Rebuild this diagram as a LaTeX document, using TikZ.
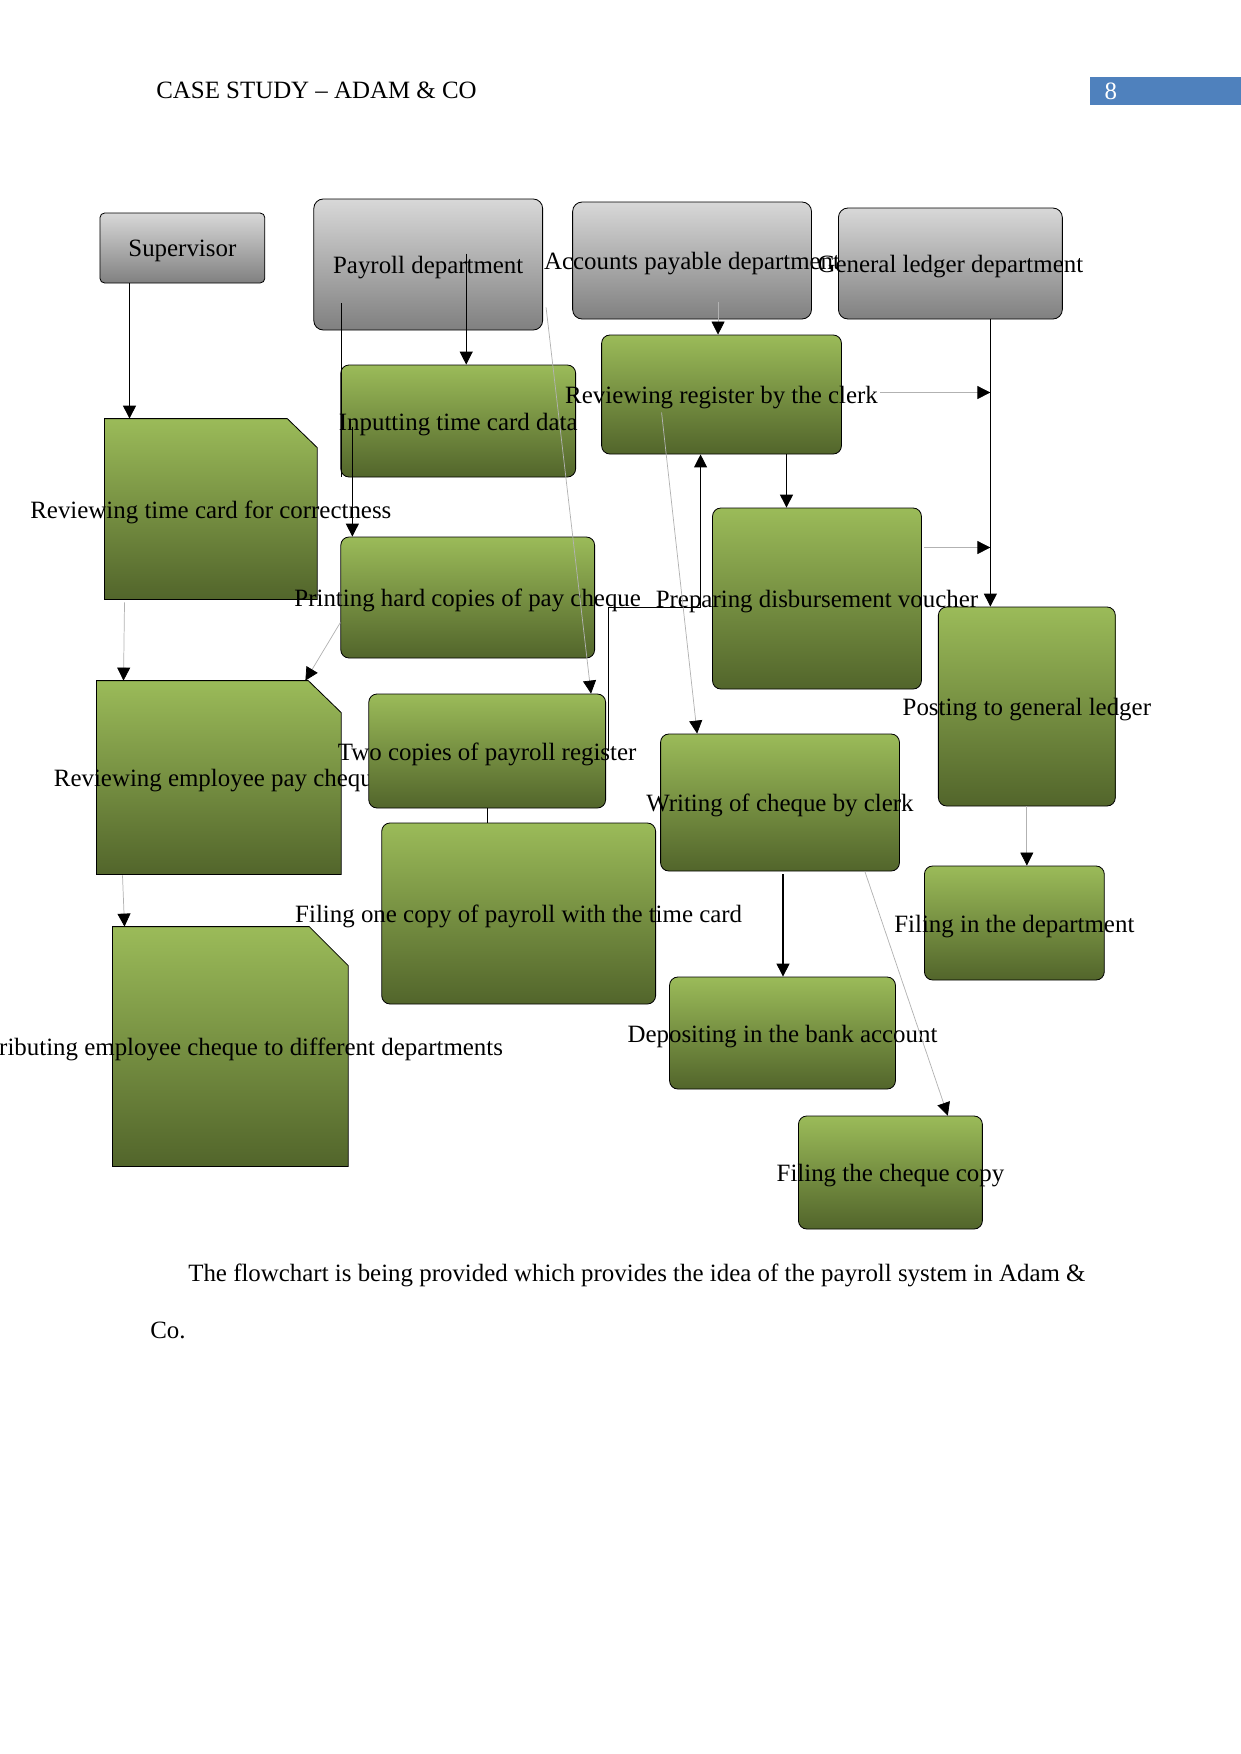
\documentclass[tikz,border=0pt]{standalone}
\usepackage{fontspec}
\setmainfont{Liberation Serif}
\usepackage{xcolor}
\usepackage{tikz}
\usetikzlibrary{arrows.meta,calc}

\definecolor{grtop}{RGB}{155,187,89}
\definecolor{grbot}{RGB}{82,101,43}
\definecolor{gytop}{RGB}{216,216,216}
\definecolor{gybot}{RGB}{128,128,128}
\definecolor{pgblue}{RGB}{79,129,189}

\begin{document}
\begin{tikzpicture}[
  x=0.16922mm, y=-0.16933mm,
  every node/.style={font=\fontsize{12}{14.4}\selectfont},
  every label/.style={yshift=-1.6pt},
  sz/.style 2 args={minimum width=#1*0.16922mm,minimum height=#2*0.16933mm,inner sep=0pt},
  dept/.style={draw=black,line width=0.4pt,rounded corners=1.6mm,
               top color=gytop,bottom color=gybot},
  task/.style={draw=black,line width=0.4pt,rounded corners=1.4mm,
               top color=grtop,bottom color=grbot},
  snip/.style={draw=black,line width=0.4pt,top color=grtop,bottom color=grbot},
  tx/.style={yshift=-1.6pt},
  arr/.style={-{Triangle[length=2.2mm,width=2.2mm]},line width=0.5pt},
  faint/.style={-{Triangle[length=2.2mm,width=2.2mm,color=black]},gray!60,line width=0.35pt}
]
\useasboundingbox (0,0) rectangle (1241,1754);

\node[anchor=west,inner sep=0pt] (head) at (156,90) {CASE STUDY – ADAM \& CO};
\node[fill=pgblue,sz={151}{28},anchor=north west] (pgbox) at (1090,77) {};
\node[text=white,inner sep=0pt,anchor=west] (pgnum) at (1105,91) {8};

\node[dept,sz={165}{70},rounded corners=0.8mm,label={center:Supervisor}] (super) at (182.5,248) {};
\node[dept,sz={229}{131},label={center:Payroll department}] (payroll) at (428.5,264.5) {};
\node[dept,sz={239}{117},label={center:Accounts payable department}] (acpay) at (692.5,260.5) {};
\node[dept,sz={224}{111},label={center:General ledger department}] (genled) at (951,263.5) {};

\node[sz={212}{180}] (revcard) at (211,509) {};
\draw[snip] (revcard.south west) -- (revcard.north west) -- ($(revcard.north east)+(-30,0)$)
  -- ($(revcard.north east)+(0,29)$) -- (revcard.south east) -- cycle;
\node[tx] (revcard-t) at (revcard) {Reviewing time card for correctness};
\node[task,sz={235}{112},label={center:Inputting time card data}] (input) at (458.5,421) {};
\node[task,sz={240}{119},label={center:Reviewing register by the clerk}] (revreg) at (722,394.5) {};
\node[task,sz={254}{121},label={center:Printing hard copies of pay cheque}] (print) at (468,597.5) {};
\node[task,sz={209}{181},label={center:Preparing disbursement voucher}] (prepv) at (817.5,598.5) {};
\node[sz={244}{193}] (revpay) at (219,777.5) {};
\draw[snip] (revpay.south west) -- (revpay.north west) -- ($(revpay.north east)+(-33,0)$)
  -- ($(revpay.north east)+(0,32)$) -- (revpay.south east) -- cycle;
\node[tx] (revpay-t) at (revpay) {Reviewing employee pay cheque};
\node[task,sz={237}{114},label={center:Two copies of payroll register}] (twocp) at (487.5,751) {};
\node[task,sz={177}{199},label={center:Posting to general ledger}] (post) at (1027.5,706.5) {};
\node[task,sz={239}{137},label={center:Writing of cheque by clerk}] (writechq) at (780.5,802.5) {};
\node[task,sz={274}{181},label={center:Filing one copy of payroll with the time card}] (fileone) at (519,913.5) {};
\node[task,sz={180}{114},label={center:Filing in the department}] (filedep) at (1015,923) {};
\node[sz={235}{239}] (distr) at (230.5,1046.5) {};
\draw[snip] (distr.south west) -- (distr.north west) -- ($(distr.north east)+(-39,0)$)
  -- ($(distr.north east)+(0,39)$) -- (distr.south east) -- cycle;
\node[tx] (distr-t) at (distr) {Distributing employee cheque to different departments};
\node[task,sz={226}{112},label={center:Depositing in the bank account}] (deposit) at (783,1033) {};
\node[task,sz={184}{113},label={center:Filing the cheque copy}] (filechq) at (891,1172.5) {};

\coordinate (gl) at ($(genled.south)+(40,0)$);
\draw[arr] ($(super.south west)+(30,0)$) -- ($(revcard.north west)+(25,0)$);
\draw[arr] ($(payroll.center)+(38,-11)$) coordinate (p1) -- (p1 |- input.north);
\draw[line width=0.5pt] ($(payroll.south west)+(28,-27)$) coordinate (p2) -- (p2 |- input.south);
\draw[arr] ($(input.west)+(12,6)$) coordinate (p3) -- (p3 |- print.north);
\draw[faint] ($(payroll.south east)+(3,-23)$) -- ($(twocp.north east)+(-15,0)$);
\draw[faint] ($(print.west)+(0,25)$) -- ($(revpay.north west)+(209,0)$);
\draw[faint] ($(revcard.south west)+(20,3)$) -- ($(revpay.north west)+(27,0)$);
\draw[faint] ($(revpay.south west)+(26,1)$) -- ($(distr.north west)+(12,0)$);
\draw[line width=0.5pt] (twocp.south) -- (twocp.south |- fileone.north);
\draw[arr] ($(twocp.east)+(2,0)$) |- ($(revreg.south)+(-21,153)$) -- ($(revreg.south)+(-21,0)$);
\draw[faint] ($(acpay.south)+(26,-17)$) coordinate (p4) -- (p4 |- revreg.north);
\draw[arr] ($(revreg.south)+(65,0)$) coordinate (p5) -- (p5 |- prepv.north);
\draw[arr] (gl) -- (gl |- post.north);
\draw[faint] ($(revreg.east)+(38,-2)$) coordinate (p6) -- (gl |- p6);
\draw[faint] ($(prepv.east)+(2,-51)$) coordinate (p7) -- (gl |- p7);
\draw[faint] ($(revreg.center)+(-60,18)$) -- ($(writechq.north west)+(37,0)$);
\draw[arr] ($(writechq.south)+(3,3)$) coordinate (p8) -- (p8 |- deposit.north);
\draw[faint] ($(writechq.south east)+(-35,0)$) -- ($(filechq.north east)+(-35,0)$);
\draw[faint] (post.south) -- (post.south |- filedep.north);

\node[anchor=west,inner sep=0pt] (para) at (188,1275) {The flowchart is being provided which provides the idea of the payroll system in Adam \&};
\node[anchor=west,inner sep=0pt] (paraend) at (150,1330) {Co.};
\end{tikzpicture}
\end{document}
